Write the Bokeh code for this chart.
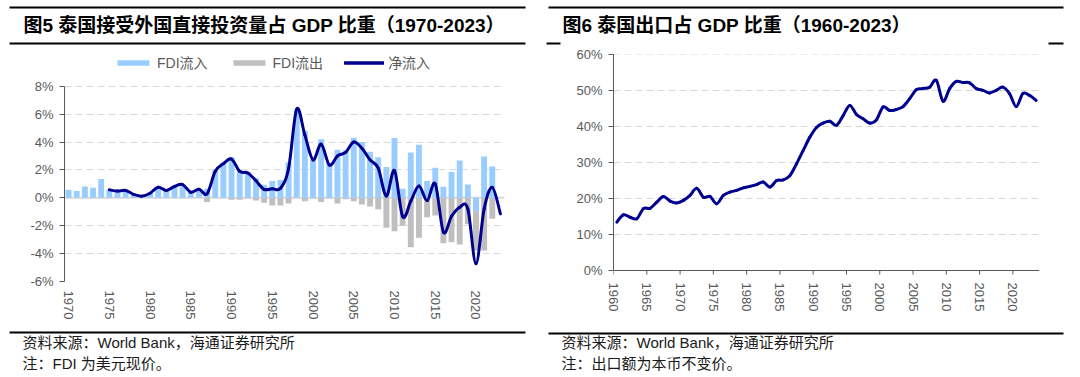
from bokeh.plotting import figure
from bokeh.layouts import row
from bokeh.models import (Range1d, FixedTicker, PrintfTickFormatter, Span,
                          Legend, LegendItem, ColumnDataSource)
from bokeh.core.properties import value
from bokeh.embed import file_html
from bokeh.resources import INLINE

# ---------------- data ----------------
fdi_years = list(range(1970, 2024))
fdi_inflow = [0.57, 0.48, 0.81, 0.72, 1.34, 0.57, 0.45, 0.52, 0.25, 0.14,
              0.36, 0.78, 0.55, 0.82, 0.95, 0.42, 0.63, 0.64, 1.97, 2.50,
              2.90, 2.00, 1.85, 1.40, 0.93, 1.20, 1.27, 2.55, 6.35, 4.80,
              2.70, 4.20, 2.50, 3.45, 3.40, 4.30, 4.00, 3.30, 2.90, 2.20,
              4.28, 0.65, 3.25, 3.80, 1.20, 2.15, 0.80, 1.85, 2.68, 0.95,
              -0.95, 2.96, 2.25, None]
fdi_outflow = [0, 0, 0, 0, 0, 0, 0, 0, 0, 0,
               0, 0, 0, 0, 0, 0, 0, -0.31, 0, 0,
               -0.14, -0.14, -0.05, -0.19, -0.36, -0.55, -0.55, -0.40, 0, -0.25,
               -0.05, -0.31, -0.05, -0.40, -0.10, -0.25, -0.48, -0.62, -0.82, -2.15,
               -2.40, -2.00, -3.55, -2.87, -1.40, -1.27, -3.25, -3.18, -3.35, -1.90,
               -3.78, -3.78, -1.50, None]
fdi_net = [None, None, None, None, None, 0.57, 0.48, 0.53, 0.24, 0.12,
           0.33, 0.76, 0.52, 0.81, 0.95, 0.40, 0.62, 0.29, 1.90, 2.45,
           2.78, 1.90, 1.78, 1.22, 0.60, 0.65, 0.68, 2.10, 6.35, 4.50,
           2.72, 3.85, 2.35, 3.00, 3.25, 4.00, 3.55, 2.72, 2.12, 0.12,
           1.95, -1.35, -0.25, 0.85, -0.20, 1.00, -2.45, -1.32, -0.68, -0.80,
           -4.72, -0.80, 0.75, -1.15]
fdi_ticks = list(range(1970, 2021, 5))
fdi_yticks = [-6, -4, -2, 0, 2, 4, 6, 8]

exp_years = list(range(1960, 2024))
exp_share = [13.45, 15.5, 14.8, 14.4, 17.2, 17.3, 19.0, 20.6, 19.3, 18.8,
             19.5, 20.9, 22.9, 20.4, 20.6, 18.55, 20.9, 21.8, 22.3, 23.0,
             23.4, 23.9, 24.6, 23.2, 25.0, 25.2, 26.4, 29.7, 33.4, 37.1,
             39.8, 41.0, 41.5, 40.4, 43.1, 45.9, 43.4, 42.2, 41.0, 41.9,
             45.5, 44.5, 44.8, 45.6, 47.8, 50.3, 50.6, 51.0, 52.9, 47.1,
             50.6, 52.6, 52.3, 52.2, 50.6, 50.1, 49.4, 50.1, 51.0, 49.2,
             45.6, 49.2, 48.7, 47.3]
exp_ticks = list(range(1960, 2021, 5))
exp_yticks = [0, 10, 20, 30, 40, 50, 60]

title_left = "图5  泰国接受外国直接投资量占 GDP 比重（1970-2023）"
title_right = "图6  泰国出口占 GDP 比重（1960-2023）"
source_text = "资料来源：World Bank，海通证券研究所"
note_left = "注：FDI 为美元现价。"
note_right = "注：出口额为本币不变价。"
legend_labels = ["FDI流入", "FDI流出", "净流入"]

# ---------------- styles ----------------
FONT = "Liberation Sans, Noto Sans CJK SC"
C_IN = "#99CCFF"
C_OUT = "#BFBFBF"
C_LINE = "#000090"
C_GRID = "#D9D9D9"
C_AXIS = "#595959"
C_TXT = "#595959"

# panel geometry (pixels inside each 540x377 panel)
TOP, BOTTOM = 54, 281            # plot frame top / bottom, shared by both panels
L_LEFT, L_RIGHT = 64, 504        # left chart frame
R_LEFT, R_RIGHT = 73, 499        # right chart frame
L_PX_PER = 13.95                 # px per 1 % (left)
R_PX_PER = 3.595                 # px per 1 % (right)
R_ZERO_PX = 270                  # 0% line of the right chart


def smooth(xs, ys):
    """Bezier segments (Catmull-Rom style) through the given points."""
    pts = [(x, y) for x, y in zip(xs, ys) if y is not None]
    n = len(pts)
    d = dict(x0=[], y0=[], x1=[], y1=[], cx0=[], cy0=[], cx1=[], cy1=[])
    for i in range(n - 1):
        p0 = pts[i - 1] if i > 0 else pts[i]
        p1 = pts[i]
        p2 = pts[i + 1]
        p3 = pts[i + 2] if i + 2 < n else pts[i + 1]
        d["x0"].append(p1[0]); d["y0"].append(p1[1])
        d["x1"].append(p2[0]); d["y1"].append(p2[1])
        d["cx0"].append(p1[0] + (p2[0] - p0[0]) / 6.0)
        d["cy0"].append(p1[1] + (p2[1] - p0[1]) / 6.0)
        d["cx1"].append(p2[0] - (p3[0] - p1[0]) / 6.0)
        d["cy1"].append(p2[1] - (p3[1] - p1[1]) / 6.0)
    return ColumnDataSource(d)


def style_axis(ax):
    ax.major_label_text_font = FONT
    ax.major_label_text_font_size = "13px"
    ax.major_label_text_color = C_TXT
    ax.minor_tick_line_color = None


def panel(fl, fr, xr, yr):
    p = figure(width=540, height=377, x_range=Range1d(*xr), y_range=Range1d(*yr),
               toolbar_location=None, output_backend="svg",
               min_border_left=fl, min_border_right=540 - fr, min_border_top=TOP,
               min_border_bottom=377 - BOTTOM)
    p.outline_line_color = None
    p.background_fill_color = "white"
    p.border_fill_color = "white"
    p.xgrid.visible = False
    p.ygrid.grid_line_color = C_GRID
    p.ygrid.grid_line_dash = "7 4"
    p.ygrid.grid_line_width = 1
    return p


def decorate(p, fx0, fx1, xr, yr, title, note, rules, text_x):
    """Titles, footers and rules placed at pixel positions of the panel."""
    def dx(px):
        return xr[0] + (px - fx0) / (fx1 - fx0) * (xr[1] - xr[0])

    def dy(py):
        return yr[0] + (BOTTOM - py) / (BOTTOM - TOP) * (yr[1] - yr[0])

    p.text(x=[dx(text_x)], y=[dy(25)], text=[title], text_font=value(FONT),
           text_font_size="19px", text_font_style="bold", text_baseline="middle",
           text_align="left", text_color="black", level="overlay")
    p.text(x=[dx(text_x - 1)] * 2, y=[dy(342), dy(363)], text=[source_text, note],
           text_font=value(FONT), text_font_size="15px", text_baseline="middle",
           text_align="left", text_color="#1a1a1a", level="overlay")
    p.segment(x0=[dx(a) for a, b, py in rules], x1=[dx(b) for a, b, py in rules],
              y0=[dy(py) for a, b, py in rules], y1=[dy(py) for a, b, py in rules],
              line_color="black", line_width=2, level="overlay")


# ---------------- left chart ----------------
L_XR = (1969.5, 2023.5)
L_YR = (-6.0, -6.0 + (BOTTOM - TOP) / L_PX_PER)
p1 = panel(L_LEFT, L_RIGHT, L_XR, L_YR)
p1.ygrid.ticker = FixedTicker(ticks=[t for t in fdi_yticks if t != 0])
p1.add_layout(Span(location=0, dimension="width", line_color=C_GRID, line_width=2, level="underlay"))

src = ColumnDataSource(dict(x=fdi_years,
                            inflow=[float("nan") if v is None else v for v in fdi_inflow],
                            outflow=[float("nan") if v is None else v for v in fdi_outflow]))
r_out = p1.vbar(x="x", top="outflow", bottom=0, width=0.72, source=src, fill_color=C_OUT, line_color=None)
r_in = p1.vbar(x="x", top="inflow", bottom=0, width=0.72, source=src, fill_color=C_IN, line_color=None)
r_net = p1.bezier(x0="x0", y0="y0", x1="x1", y1="y1", cx0="cx0", cy0="cy0", cx1="cx1", cy1="cy1",
                  source=smooth(fdi_years, fdi_net), line_color=C_LINE, line_width=3, line_cap="round")
r_leg_line = p1.line(x=[float("nan")], y=[float("nan")], line_color=C_LINE, line_width=3)

leg = Legend(items=[LegendItem(label=legend_labels[0], renderers=[r_in]),
                    LegendItem(label=legend_labels[1], renderers=[r_out]),
                    LegendItem(label=legend_labels[2], renderers=[r_net, r_leg_line])],
             orientation="horizontal", location=(49, BOTTOM - 72), padding=0, margin=0,
             spacing=21, glyph_width=40, glyph_height=7, label_height=14,
             label_standoff=4, border_line_color=None, background_fill_alpha=0,
             label_text_font=FONT, label_text_font_size="14px", label_text_color=C_TXT)
p1.add_layout(leg)

p1.yaxis.ticker = FixedTicker(ticks=fdi_yticks)
p1.yaxis.formatter = PrintfTickFormatter(format="%d%%")
p1.yaxis.bounds = (-6, 8)
p1.yaxis.axis_line_color = C_AXIS
p1.yaxis.major_tick_line_color = C_AXIS
p1.yaxis.major_tick_in = 0
p1.yaxis.major_tick_out = 5
p1.yaxis.major_label_standoff = 6
style_axis(p1.yaxis[0])

p1.xaxis.ticker = FixedTicker(ticks=fdi_ticks)
p1.xaxis.formatter = PrintfTickFormatter(format="%d")
p1.xaxis.axis_line_color = None
p1.xaxis.major_tick_line_color = None
p1.xaxis.major_tick_in = 0
p1.xaxis.major_tick_out = 0
p1.xaxis.major_label_standoff = 9
p1.xaxis.major_label_orientation = "vertical"
style_axis(p1.xaxis[0])

decorate(p1, L_LEFT, L_RIGHT, L_XR, L_YR, title_left, note_left,
         rules=[(9, 525, 7), (9, 525, 43), (9, 525, 332)], text_x=23)

# ---------------- right chart ----------------
R_XR = (1960, 2024)
R_YR = (-(BOTTOM - R_ZERO_PX) / R_PX_PER, (R_ZERO_PX - TOP) / R_PX_PER)
p2 = panel(R_LEFT, R_RIGHT, R_XR, R_YR)
p2.ygrid.ticker = FixedTicker(ticks=[t for t in exp_yticks if t != 0])

# category axis line at 0 % with outside tick marks
p2.add_layout(Span(location=0, dimension="width", line_color=C_AXIS, line_width=1))
tick_len = 4 / R_PX_PER
p2.segment(x0=exp_ticks, x1=exp_ticks, y0=[0] * len(exp_ticks), y1=[-tick_len] * len(exp_ticks),
           line_color=C_AXIS, line_width=1)

p2.bezier(x0="x0", y0="y0", x1="x1", y1="y1", cx0="cx0", cy0="cy0", cx1="cx1", cy1="cy1",
          source=smooth([y + 0.5 for y in exp_years], exp_share),
          line_color=C_LINE, line_width=3, line_cap="round")

p2.yaxis.ticker = FixedTicker(ticks=exp_yticks)
p2.yaxis.formatter = PrintfTickFormatter(format="%d%%")
p2.yaxis.bounds = (0, 60)
p2.yaxis.axis_line_color = C_AXIS
p2.yaxis.major_tick_line_color = C_AXIS
p2.yaxis.major_tick_in = 0
p2.yaxis.major_tick_out = 5
p2.yaxis.major_label_standoff = 6
style_axis(p2.yaxis[0])

p2.xaxis.ticker = FixedTicker(ticks=exp_ticks)
p2.xaxis.formatter = PrintfTickFormatter(format="%d")
p2.xaxis.axis_line_color = None
p2.xaxis.major_tick_line_color = None
p2.xaxis.major_tick_in = 0
p2.xaxis.major_tick_out = 0
p2.xaxis.major_label_standoff = 1
p2.xaxis.major_label_orientation = "vertical"
style_axis(p2.xaxis[0])

decorate(p2, R_LEFT, R_RIGHT, R_XR, R_YR, title_right, note_right,
         rules=[(8, 523, 7), (6, 20, 43), (508, 523, 43), (8, 523, 333)], text_x=22)

layout = row(p1, p2)
open("out.html", "w").write(file_html(layout, INLINE))
